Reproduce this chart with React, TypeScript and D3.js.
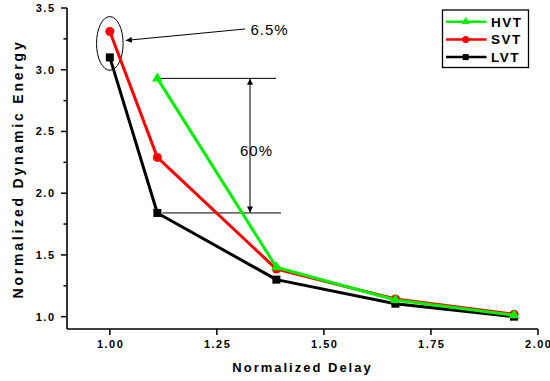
import React from "react";
import * as d3 from "d3";

const xVals = [1.0, 1.111, 1.389, 1.667, 1.944];
const hvt: (number | null)[] = [null, 2.93, 1.4, 1.135, 1.012];
const svt = [3.31, 2.29, 1.385, 1.143, 1.02];
const lvt = [3.1, 1.84, 1.3, 1.105, 1.0];
const xTicks = [1.0, 1.25, 1.5, 1.75, 2.0];
const yTicks = [1.0, 1.5, 2.0, 2.5, 3.0, 3.5];
const yMinor = [1.25, 1.75, 2.25, 2.75, 3.25];
const seriesNames = ["HVT", "SVT", "LVT"];

const W = 550, H = 381;
const FONT = "'Liberation Sans', Arial, Helvetica, sans-serif";
const GREEN = "#00f000";

export default function App() {
  const x = d3.scaleLinear().domain([0.9, 2.0]).range([67, 538]);
  const y = d3.scaleLinear().domain([0.9, 3.5]).range([329, 8]);

  const series = [
    { name: "LVT", vals: lvt as (number | null)[], color: "#000000", marker: "square" },
    { name: "SVT", vals: svt as (number | null)[], color: "#ff0000", marker: "circle" },
    { name: "HVT", vals: hvt, color: GREEN, marker: "triangle" },
  ];

  const line = d3
    .line<[number, number | null]>()
    .defined((d) => d[1] !== null)
    .x((d) => x(d[0]))
    .y((d) => y(d[1] as number));

  const tri = (s: number) => d3.symbol().type(d3.symbolTriangle).size(s)() as string;

  const marker = (kind: string, cx: number, cy: number, color: string, big: boolean, key: string) => {
    if (kind === "square") {
      const s = big ? 8 : 6;
      return <rect key={key} x={cx - s / 2} y={cy - s / 2} width={s} height={s} fill={color} />;
    }
    if (kind === "circle") {
      return <circle key={key} cx={cx} cy={cy} r={big ? 4.5 : 3.5} fill={color} />;
    }
    return <path key={key} d={tri(big ? 48 : 30)} transform={`translate(${cx},${cy})`} fill={color} />;
  };

  const ex = x(xVals[0]);
  const ey = (y(svt[0]) + y(lvt[0])) / 2 - 1;
  const topY = y(hvt[1] as number);
  const botY = y(lvt[1]);
  const vX = 250;

  const legendRows = [
    { name: seriesNames[0], color: GREEN, marker: "triangle" },
    { name: seriesNames[1], color: "#ff0000", marker: "circle" },
    { name: seriesNames[2], color: "#000000", marker: "square" },
  ];

  return (
    <svg width={W} height={H} style={{ position: "absolute", left: 0, top: 0, background: "#fff" }} fontFamily={FONT}>
      <defs>
        <marker id="ah" viewBox="0 0 10 10" refX="10" refY="5" markerWidth="7" markerHeight="6" markerUnits="userSpaceOnUse" orient="auto-start-reverse">
          <path d="M0,0 L10,5 L0,10 Z" fill="#000" />
        </marker>
      </defs>

      <line x1={x(0.9)} x2={x(2.0)} y1={y(0.9)} y2={y(0.9)} stroke="#000" strokeWidth={1.6} />
      <line x1={x(0.9)} x2={x(0.9)} y1={y(0.9)} y2={y(3.5)} stroke="#000" strokeWidth={1.6} />
      {xTicks.map((t) => (
        <g key={"xt" + t}>
          <line x1={x(t)} x2={x(t)} y1={y(0.9)} y2={y(0.9) + 6} stroke="#000" strokeWidth={1.5} />
          <text x={x(t) + 0.8} y={348} textAnchor="middle" fontSize={11} fontWeight="bold" letterSpacing={1.5}>
            {t.toFixed(2)}
          </text>
        </g>
      ))}
      {yTicks.map((t) => (
        <g key={"yt" + t}>
          <line x1={x(0.9) - 6} x2={x(0.9)} y1={y(t)} y2={y(t)} stroke="#000" strokeWidth={1.5} />
          <text x={55.5} y={y(t) + 4} textAnchor="end" fontSize={11} fontWeight="bold" letterSpacing={1.5}>
            {t.toFixed(1)}
          </text>
        </g>
      ))}
      {yMinor.map((t) => (
        <line key={"ym" + t} x1={x(0.9) - 3.5} x2={x(0.9)} y1={y(t)} y2={y(t)} stroke="#000" strokeWidth={1.5} />
      ))}

      <text x={302.5} y={372} textAnchor="middle" fontSize={13} fontWeight="bold" letterSpacing={2}>
        Normalized Delay
      </text>
      <text transform={`translate(23,169) rotate(-90)`} textAnchor="middle" fontSize={14} fontWeight="bold" letterSpacing={2.8}>
        Normalized Dynamic Energy
      </text>

      <ellipse cx={ex} cy={ey} rx={13.3} ry={26.8} fill="none" stroke="#000" strokeWidth={1} />
      <line x1={245} y1={29} x2={ex + 16} y2={ey - 3} stroke="#000" strokeWidth={1} markerEnd="url(#ah)" />
      <text x={250.5} y={34.5} fontSize={15} letterSpacing={1}>6.5%</text>

      <line x1={x(xVals[1]) + 2} x2={276} y1={topY} y2={topY} stroke="#000" strokeWidth={1} />
      <line x1={x(xVals[1]) + 5} x2={281} y1={botY} y2={botY} stroke="#000" strokeWidth={1} />
      <line x1={vX} x2={vX} y1={topY + 0.5} y2={botY - 0.5} stroke="#000" strokeWidth={1} markerStart="url(#ah)" markerEnd="url(#ah)" />
      <text x={240} y={156} fontSize={15} letterSpacing={1}>60%</text>

      {series.map((s) => (
        <g key={s.name}>
          <path d={line(xVals.map((xv, i) => [xv, s.vals[i]] as [number, number | null])) || ""} fill="none" stroke={s.color} strokeWidth={3} strokeLinejoin="round" />
          {xVals.map((xv, i) =>
            s.vals[i] === null ? null : marker(s.marker, x(xv), y(s.vals[i] as number), s.color, true, s.name + i)
          )}
        </g>
      ))}

      <rect x={442.5} y={10} width={86} height={57.5} fill="#fff" stroke="#000" strokeWidth={1.3} />
      {legendRows.map((r, i) => {
        const cy = 21.7 + i * 17.7;
        return (
          <g key={r.name}>
            <line x1={446} x2={486.5} y1={cy} y2={cy} stroke={r.color} strokeWidth={2.5} />
            {marker(r.marker, 465.7, cy, r.color, false, "lg" + i)}
            <text x={491} y={cy + 5} fontSize={13.5} fontWeight="bold" letterSpacing={1.5}>
              {r.name}
            </text>
          </g>
        );
      })}
    </svg>
  );
}
